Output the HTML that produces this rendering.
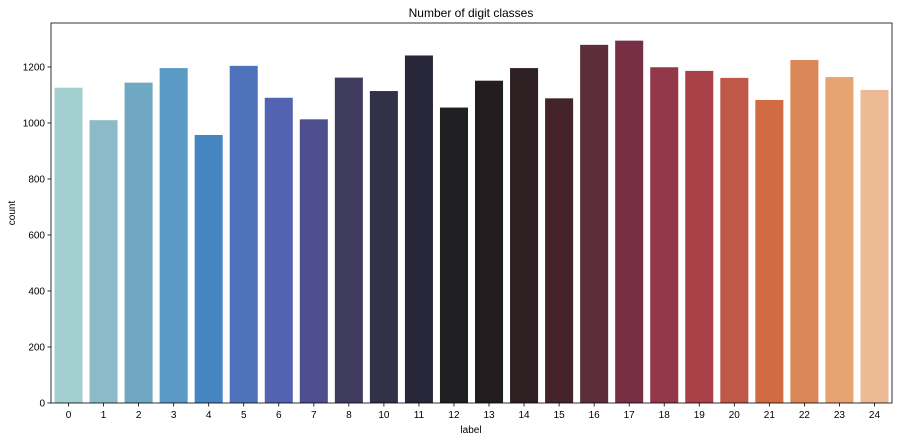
<!DOCTYPE html>
<html><head><meta charset="utf-8"><style>
body{margin:0;background:#fff;}
svg text{font-family:"Liberation Sans",sans-serif;fill:#000;}
</style></head><body>
<svg id="chart" width="897" height="441">
<text x="471" y="17" font-size="12" text-anchor="middle">Number of digit classes</text>
<text x="471" y="433" font-size="10" text-anchor="middle">label</text>
<text x="15" y="213" font-size="10" text-anchor="middle" transform="rotate(-90 15 213)">count</text>
<g id="bars"></g><g id="xt"></g><g id="yt"></g>
<rect x="51" y="23" width="841" height="380" fill="none" stroke="#000" stroke-width="0.8"/>
</svg>
<script>
const categories=["0","1","2","3","4","5","6","7","8","10","11","12","13","14","15","16","17","18","19","20","21","22","23","24"];
const counts=[1126,1010,1144,1196,957,1204,1090,1013,1162,1114,1241,1055,1151,1196,1088,1279,1294,1199,1186,1161,1082,1225,1164,1118];
const yTicks=[0,200,400,600,800,1000,1200];
const colors=["#a3cfd0","#8cbac8","#70a8c4","#5c9ac6","#4585c2","#4f72bd","#5463b1","#4f4e8f","#3f3c5f","#33304a","#28273a","#202022","#231d1f","#2f2023","#45232b","#5c2e3a","#762f43","#923849","#aa4149","#bf5849","#d16b44","#db8757","#e6a473","#ecba95"];
const L=51,R=892,T=23,B=403,yMax=1357;
const ns="http://www.w3.org/2000/svg";
const bw=(R-L)/categories.length;
const x=i=>L+bw*i;
const y=v=>B-(v/yMax)*(B-T);
const bars=document.getElementById('bars'),xt=document.getElementById('xt'),yt=document.getElementById('yt');
categories.forEach((c,i)=>{
 const r=document.createElementNS(ns,'rect');
 
 
 r.setAttribute('x',x(i)+bw*0.1);r.setAttribute('width',bw*0.8);
 r.setAttribute('y',y(counts[i]));r.setAttribute('height',B-y(counts[i]));
 r.setAttribute('fill',colors[i]);bars.appendChild(r);
 const cx=x(i)+bw/2;
 const l=document.createElementNS(ns,'line');
 
 
 l.setAttribute('x1',cx);l.setAttribute('x2',cx);l.setAttribute('y1',B);l.setAttribute('y2',B+3.5);l.setAttribute('stroke','#000');l.setAttribute('stroke-width','0.8');xt.appendChild(l);
 const t=document.createElementNS(ns,'text');
 
 
 t.setAttribute('x',cx);t.setAttribute('y',B+15);t.setAttribute('font-size','10');t.setAttribute('text-anchor','middle');t.textContent=c;xt.appendChild(t);
});
yTicks.forEach(v=>{
 const l=document.createElementNS(ns,'line');
 
 
 l.setAttribute('x1',L-3.5);l.setAttribute('x2',L);l.setAttribute('y1',y(v));l.setAttribute('y2',y(v));l.setAttribute('stroke','#000');l.setAttribute('stroke-width','0.8');yt.appendChild(l);
 const t=document.createElementNS(ns,'text');
 
 
 t.setAttribute('x',L-6);t.setAttribute('y',y(v)+3.5);t.setAttribute('font-size','10');t.setAttribute('text-anchor','end');t.textContent=v;yt.appendChild(t);
});
</script>
</body></html>
